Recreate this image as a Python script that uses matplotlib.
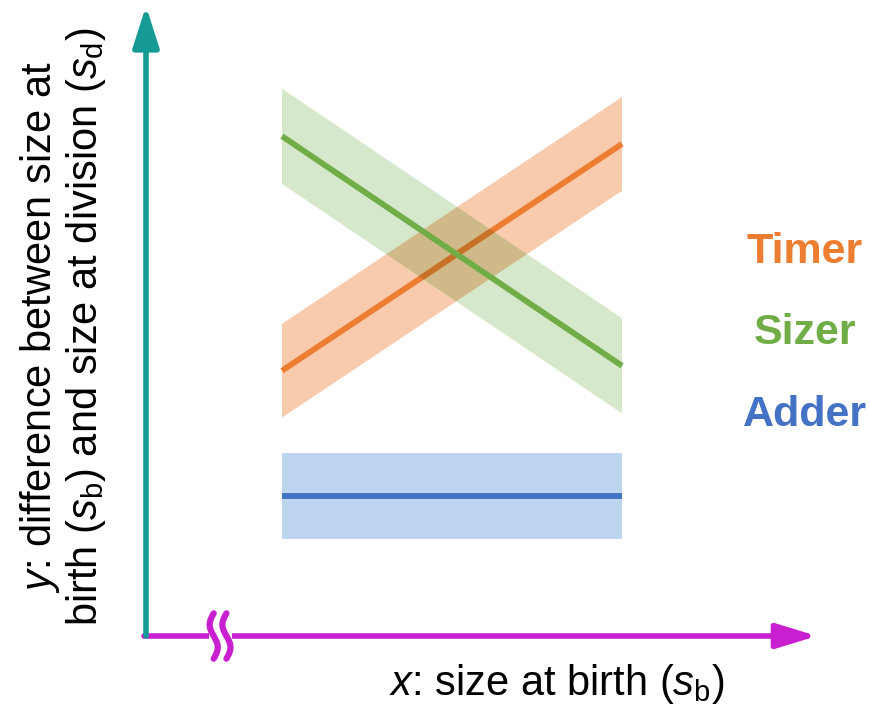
import numpy as np
import matplotlib
matplotlib.use("Agg")
import matplotlib.pyplot as plt
from matplotlib.patches import Rectangle, Polygon
from matplotlib.colors import to_rgb

plt.rcParams['font.family'] = ['Liberation Sans', 'DejaVu Sans']
plt.rcParams['mathtext.fontset'] = 'custom'
plt.rcParams['mathtext.rm'] = 'Liberation Sans'
plt.rcParams['mathtext.it'] = 'Liberation Sans:italic'

# Model names and colours
models = ["Timer", "Sizer", "Adder"]
line_colors = ["#ED7D31", "#70AD47", "#4472C4"]
band_colors = ["#F8CBAC", "#D6E8CB", "#BDD5EE"]

# Size at birth range spanned by each model
x_range = [2.0, 7.0]
# Added size (y) at the two ends of the range for each model
y_start = [3.79, 7.14, 2.0]
y_end = [7.03, 3.86, 2.0]
# Half-width of the shaded spread around each line
spread = [0.67, 0.68, 0.61]


def multiply(c1, c2):
    a, b = np.array(to_rgb(c1)), np.array(to_rgb(c2))
    return tuple(a * b)


def band_vertices(i):
    x1, x2 = x_range
    return [(x1, y_start[i] - spread[i]), (x2, y_end[i] - spread[i]),
            (x2, y_end[i] + spread[i]), (x1, y_start[i] + spread[i])]


fig = plt.figure(figsize=(8.71, 7.09), dpi=100)
W, H = 871, 709
x0_px, y0_px = 146, 636
xt_px, yt_px = 817, 6
ax = fig.add_axes([x0_px / W, 1 - y0_px / H, (xt_px - x0_px) / W, (y0_px - yt_px) / H])
ax.set_xlim(0, (xt_px - x0_px) / 68.0)
ax.set_ylim(0, (y0_px - yt_px) / 70.0)
ax.axis('off')

xs = np.array(x_range)

# Shaded spreads
bands = []
for i in range(3):
    p = Polygon(band_vertices(i), closed=True, facecolor=band_colors[i],
                edgecolor='none', zorder=1)
    ax.add_patch(p)
    bands.append(p)

# Timer/Sizer overlap tinted as if the bands were printed on top of each other
clip_green = Polygon(band_vertices(1), closed=True, transform=ax.transData)
overlap = Polygon(band_vertices(0), closed=True,
                  facecolor=multiply(band_colors[0], band_colors[1]),
                  edgecolor='none', zorder=2)
ax.add_patch(overlap)
overlap.set_clip_path(clip_green)

# Lines
for i in range(3):
    ys = np.array([y_start[i], y_end[i]])
    ax.plot(xs, ys, color=line_colors[i], lw=4.2, solid_capstyle='butt',
            zorder=3 if i != 1 else 5)

# Timer line seen through the Sizer band
ys0 = np.array([y_start[0], y_end[0]])
tinted, = ax.plot(xs, ys0, color=multiply(line_colors[0], band_colors[1]), lw=4.2,
                  solid_capstyle='butt', zorder=4)
tinted.set_clip_path(Polygon(band_vertices(1), closed=True, transform=ax.transData))

# Axes arrows
teal = "#159A96"
magenta = "#C81FD0"
ax.annotate("", xy=(0, 1.0), xytext=(0, 0), xycoords='axes fraction',
            arrowprops=dict(arrowstyle="-|>,head_length=2.5,head_width=0.8",
                            color=teal, lw=4, shrinkA=0, shrinkB=0), zorder=5)
ax.annotate("", xy=(1.0, 0), xytext=(-0.003, 0), xycoords='axes fraction',
            arrowprops=dict(arrowstyle="-|>,head_length=2.45,head_width=0.75",
                            color=magenta, lw=4, shrinkA=0, shrinkB=0), zorder=4)

# Axis break on the x axis
trans = ax.transAxes
bx = (209 - x0_px) / (xt_px - x0_px)
gap = Rectangle((bx, -0.03), 0.034, 0.06, transform=trans,
                facecolor='white', edgecolor='none', zorder=6, clip_on=False)
ax.add_patch(gap)
t = np.linspace(-1, 1, 60)
for dx in (0.0, 0.019):
    xs_b = bx + 0.007 + dx - 0.006 * np.sin(np.pi * t)
    ys_b = 0.036 * t
    ax.plot(xs_b, ys_b, color=magenta, lw=4.5, transform=trans, zorder=7,
            clip_on=False, solid_capstyle='round')

# Model labels
label_y = [252, 333, 415]
for name, c, py in zip(models, line_colors, label_y):
    fig.text(805 / W, 1 - py / H, name, color=c, fontsize=31, fontweight='bold',
             ha='center', va='center')

# Axis titles
fig.text(557 / W, 1 - 684 / H, r"$x$: size at birth ($s_\mathrm{b}$)",
         fontsize=30, ha='center', va='center')
fig.text(63 / W, 1 - 327 / H,
         "$y$: difference between size at\nbirth ($s_\\mathrm{b}$) and size at division ($s_\\mathrm{d}$)",
         fontsize=30, ha='center', va='center', rotation=90, linespacing=1.05)

fig.savefig("out.png", dpi=100)
